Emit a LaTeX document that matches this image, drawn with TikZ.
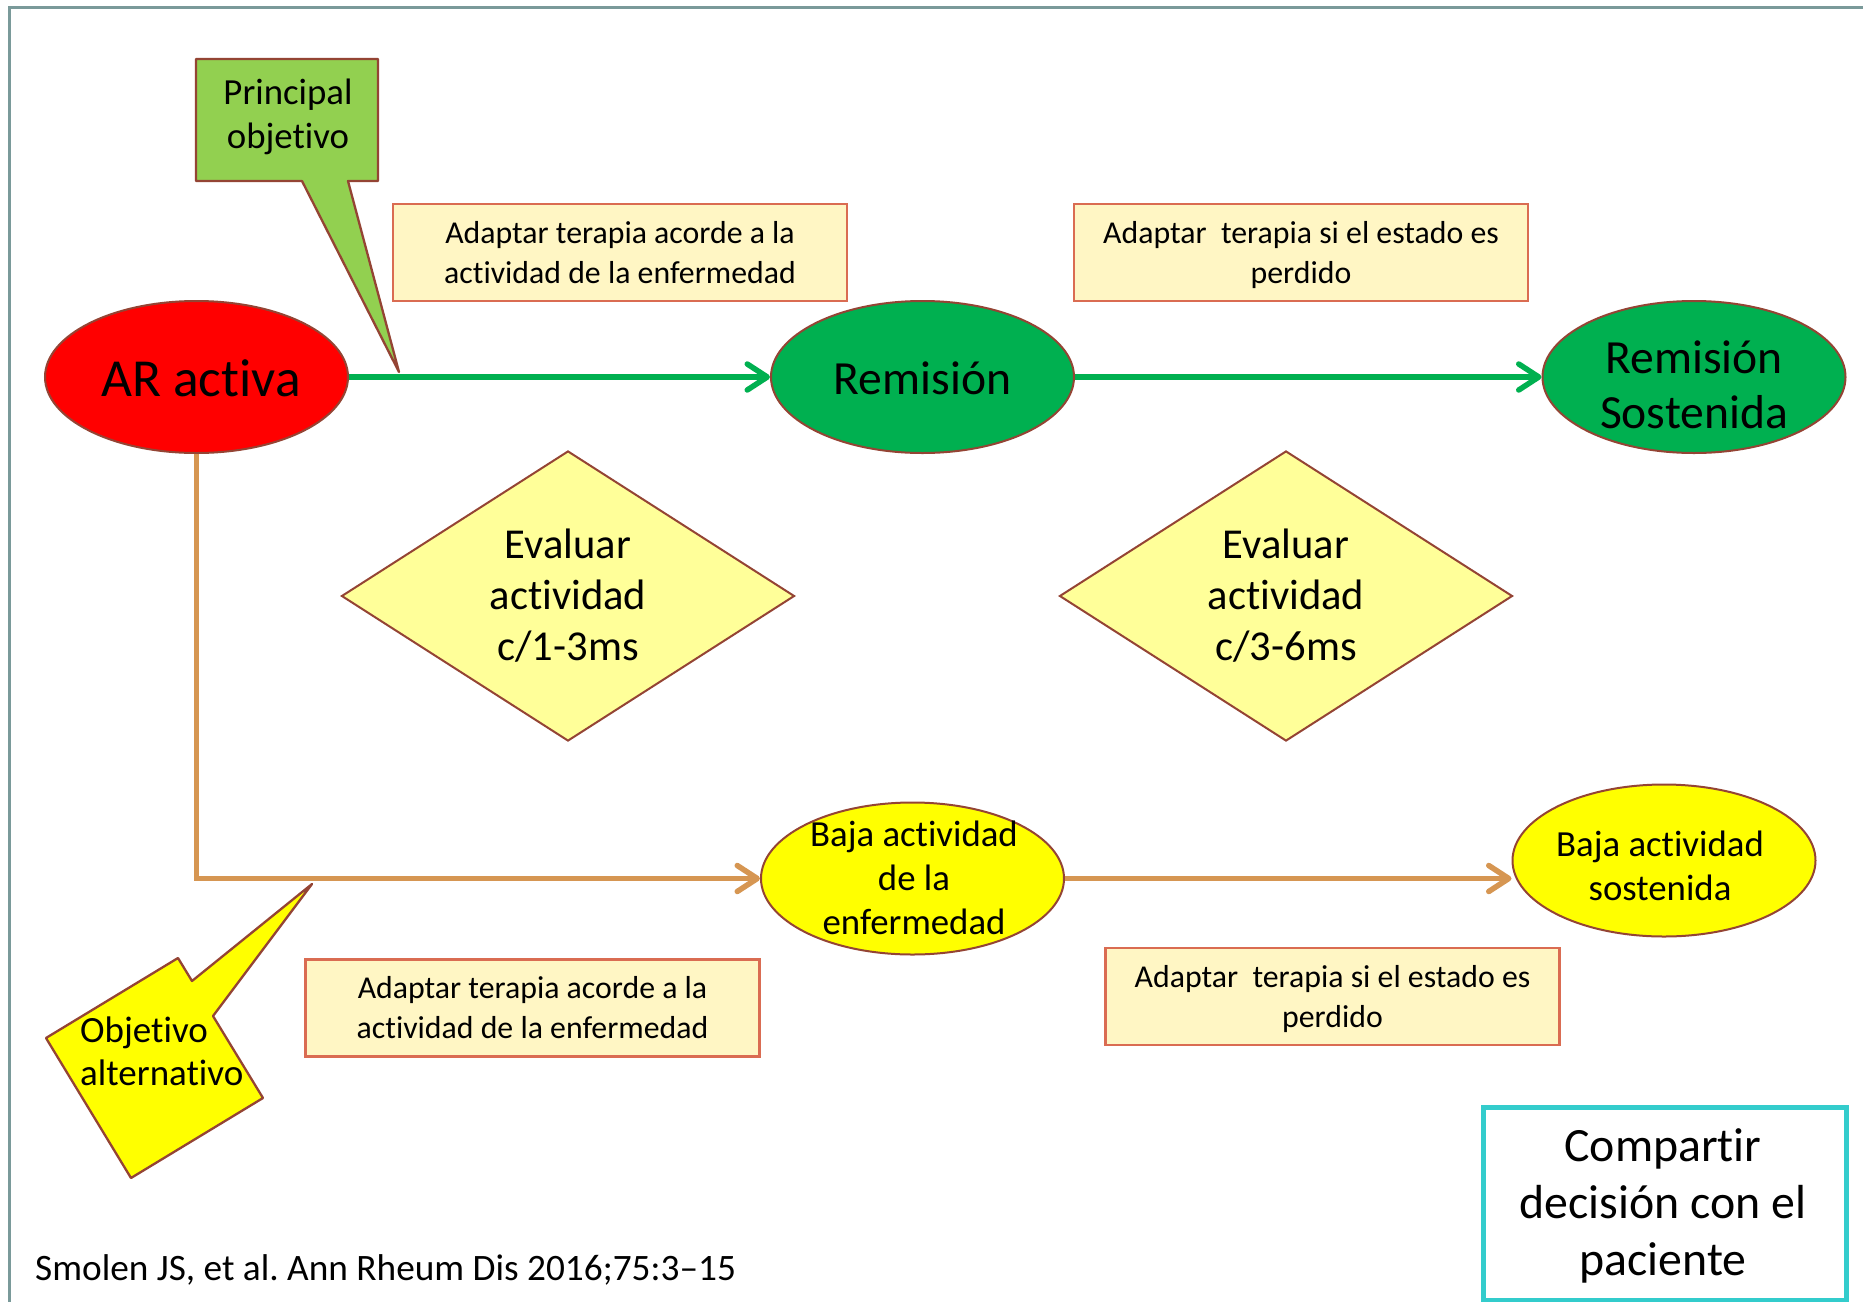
\documentclass[tikz,border=0pt]{standalone}
\usepackage{fontspec}
\setmainfont{Carlito}[Ligatures={TeX,NoCommon,NoContextual,NoRare},RawFeature={-liga;-clig;-dlig}]
\usetikzlibrary{shapes.geometric,arrows.meta}

\definecolor{framegray}{RGB}{122,154,154}
\definecolor{edgebrown}{RGB}{148,68,52}
\definecolor{boxedge}{RGB}{218,108,82}
\definecolor{boxfill}{RGB}{255,246,196}
\definecolor{diafill}{RGB}{255,255,153}
\definecolor{remgreen}{RGB}{0,176,80}
\definecolor{callgreen}{RGB}{146,208,80}
\definecolor{linegreen}{RGB}{0,176,80}
\definecolor{linetan}{RGB}{214,150,82}
\definecolor{sharecyan}{RGB}{51,204,204}
\definecolor{ovalyellow}{RGB}{255,255,0}

\newcommand{\fsz}[2]{\fontsize{#1}{#2}\selectfont}
\newcommand{\nodepth}[1]{\raisebox{0pt}[\height][0pt]{#1}}
\frenchspacing

\begin{document}
\begin{tikzpicture}[x=1pt,y=-1pt,
  oval/.style={ellipse, draw=edgebrown, line width=2pt,
    minimum width=303pt, minimum height=152pt, inner sep=0pt},
  ovaltext/.style={inner sep=0pt, align=center},
  notebox/.style={rectangle, draw=boxedge, fill=boxfill, line width=2.5pt,
    minimum width=454pt, minimum height=97pt, inner sep=0pt,
    align=center, font=\fsz{31.8}{40}},
  evalbox/.style={diamond, draw=edgebrown, fill=diafill, line width=2pt,
    minimum width=453pt, minimum height=286pt, inner sep=0pt,
    align=center, font=\fsz{42.6}{51}},
  flowarrow/.style={line width=5.5pt, -{Straight Barb[length=20pt,width=26pt,round]}},
  callout/.style={draw=edgebrown, line width=2.3pt, line join=round}
]
\useasboundingbox (0,0) rectangle (1863,1301);
\clip (0,0) rectangle (1863,1301);
\fill[white] (0,0) rectangle (1863,1301);

% slide frame (only the top and left edges fall inside the page)
\draw[framegray, line width=3pt] (9,7) rectangle (1900,1340);

% states
\node[oval, fill=red] (ar) at (196.5,377) {};
\node[ovaltext, font=\fsz{53.5}{60}] (arT) at (201,378) {AR activa};

\node[oval, fill=remgreen] (rem) at (922.5,377) {};
\node[ovaltext, font=\fsz{47.6}{55}] (remT) at (922.5,378) {Remisión};

\node[oval, fill=remgreen] (remsost) at (1694,377) {};
\node[ovaltext, font=\fsz{47.6}{55}] (remsostT) at (1694,385) {Remisión\\Sostenida};

\node[oval, fill=ovalyellow] (baja) at (912.5,878.5) {};
\node[ovaltext, font=\fsz{36.8}{44}] (bajaT) at (914,878) {Baja actividad\\de la\\enfermedad};

\node[oval, fill=ovalyellow] (bajasost) at (1664,860.5) {};
\node[ovaltext, font=\fsz{36.8}{44}] (bajasostT) at (1660,866) {Baja actividad\\sostenida};

% assessment diamonds
\node[evalbox] (eval1) at (568,596) {Evaluar\\actividad\\c/1-3ms};
\node[evalbox] (eval2) at (1286,596) {Evaluar\\actividad\\c/3-6ms};

% therapy notes
\node[notebox] (note1) at (620,252.5) {Adaptar terapia acorde a la\\actividad de la enfermedad};
\node[notebox] (note2) at (1301,252.5) {Adaptar\ \ terapia si el estado es\\\nodepth{perdido}};
\node[notebox] (note3) at (532.5,1008) {Adaptar terapia acorde a la\\actividad de la enfermedad};
\node[notebox] (note4) at (1332.5,996.5) {Adaptar\ \ terapia si el estado es\\\nodepth{perdido}};

% connectors
\draw[flowarrow, linegreen] (ar) -- (rem);
\draw[flowarrow, linegreen] (rem) -- (remsost);
\draw[flowarrow, linetan] (ar.south) |- (baja.west);
\draw[flowarrow, linetan] (baja.east) -- (bajasost.west |- baja.east);

% main goal callout
\coordinate (ptip) at (399,372);
\draw[callout, fill=callgreen] (196,59) -- (378,59) -- (378,181) -- (348,181)
  -- (ptip) -- (302,181) -- (196,181) -- cycle;
\node[ovaltext, font=\fsz{36.8}{44}] (principal) at (288,117) {Principal\\objetivo};

% alternative goal callout
\coordinate (atip) at (312,884);
\draw[callout, fill=ovalyellow] (178,958) -- (192,981) -- (atip) -- (213,1016)
  -- (263,1098) -- (131,1178) -- (46,1038) -- cycle;
\node[ovaltext, align=left, anchor=west, font=\fsz{37}{43}] (alternativo) at (80,1051) {Objetivo\\alternativo};

% shared decision box
\node[draw=sharecyan, line width=4.5pt, minimum width=363pt, minimum height=193pt,
  inner sep=0pt, anchor=north west] (share) at (1481,1105) {};
\node[ovaltext, font=\fsz{47.8}{57}] (shareT) at (1663,1206) {Compartir\\decisión con el\\paciente};

% reference
\node[inner sep=0pt, anchor=west, font=\fsz{37.3}{44}] (ref) at (35,1270) {Smolen JS, et al. Ann Rheum Dis 2016;75:3–15};
\end{tikzpicture}
\end{document}
